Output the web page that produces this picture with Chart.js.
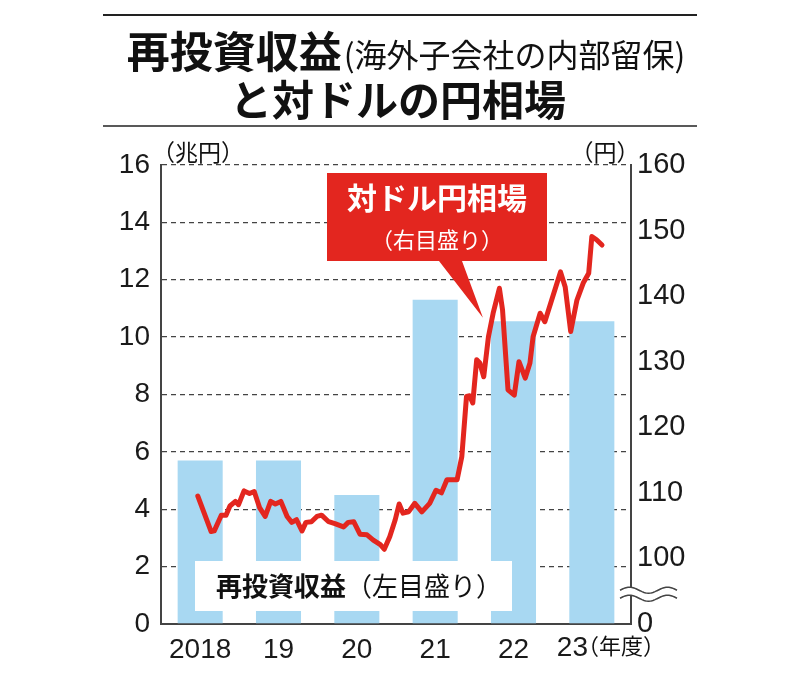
<!DOCTYPE html>
<html lang="ja">
<head>
<meta charset="utf-8">
<script src="https://cdn.jsdelivr.net/npm/chart.js@4/dist/chart.umd.min.js"></script>
<style>
  html, body { margin: 0; padding: 0; background: #fff; }
</style>
</head>
<body>
<canvas id="myChart" width="800" height="691"></canvas>
<script>
// 再投資収益（兆円、年度）
const years = ['2018', '19', '20', '21', '22', '23'];
const reinvest = [5.7, 5.7, 4.5, 11.3, 10.55, 10.55];

// 対ドル円相場（円）: 横位置は年度、値は右目盛り
const rateX = [2017.97, 2018.14, 2018.18, 2018.27, 2018.33, 2018.38, 2018.45, 2018.49, 2018.56, 2018.63,
  2018.69, 2018.76, 2018.83, 2018.90, 2018.96, 2019.03, 2019.11, 2019.17, 2019.23, 2019.30,
  2019.35, 2019.42, 2019.49, 2019.55, 2019.64, 2019.72, 2019.83, 2019.89, 2019.96, 2020.04,
  2020.13, 2020.21, 2020.30, 2020.35, 2020.42, 2020.49, 2020.54, 2020.59, 2020.66, 2020.74,
  2020.83, 2020.93, 2021.01, 2021.08, 2021.15, 2021.28, 2021.34, 2021.40, 2021.44, 2021.48,
  2021.53, 2021.57, 2021.62, 2021.68, 2021.74, 2021.82, 2021.86, 2021.93, 2022.01, 2022.07,
  2022.15, 2022.21, 2022.25, 2022.34, 2022.40, 2022.60, 2022.66, 2022.73, 2022.81, 2022.89,
  2022.96, 2023.00, 2023.06, 2023.13];
const rateYen = [109.5, 104.1, 104.2, 106.6, 106.6, 108.0, 108.7, 108.2, 110.3, 109.9,
  110.2, 107.7, 106.4, 108.7, 108.3, 108.7, 106.4, 105.5, 105.9, 104.2,
  105.5, 105.6, 106.4, 106.6, 105.6, 105.3, 104.8, 105.5, 105.6, 103.7,
  103.6, 102.8, 102.1, 101.4, 103.3, 105.9, 108.3, 106.9, 107.1, 108.4,
  107.1, 108.4, 110.4, 110.0, 112.0, 112.0, 115.5, 124.7, 124.8, 123.7,
  130.3, 129.8, 127.7, 133.8, 137.4, 141.2, 137.9, 125.7, 124.9, 130.0,
  127.5, 129.8, 133.8, 137.4, 136.1, 143.7, 141.4, 134.6, 139.4, 142.0,
  143.5, 149.1, 148.6, 147.8];

// 目盛り
const leftTicks = { min: 0, max: 16, step: 2 };
const rightTicks = { min: 90, max: 160, step: 10 };

const JP = '"Noto Sans CJK JP", "Noto Sans", sans-serif';
const NUM = '"Liberation Sans", Arial, sans-serif';
const RED = '#e3261f';
const AXIS = '#444';

// sin波の省略記号
function wavePath(ctx, x0, x1, y0, dir) {
  const xs = [];
  for (let x = x0; x <= x1; x += 1) xs.push(x);
  if (dir < 0) xs.reverse();
  xs.forEach((x, i) => {
    const y = y0 - 3 * Math.sin((x - x0) / 38 * 2 * Math.PI);
    if (i === 0 && dir > 0) ctx.moveTo(x, y); else ctx.lineTo(x, y);
  });
}

const decor = {
  id: 'decor',
  beforeDraw(chart) {
    const ctx = chart.ctx;
    ctx.save();
    ctx.fillStyle = '#fff';
    ctx.fillRect(0, 0, chart.width, chart.height);
    ctx.restore();
  },
  afterDatasetsDraw(chart) {
    const ctx = chart.ctx;
    const a = chart.chartArea;
    const xr = chart.scales.xr, y1 = chart.scales.y1;
    ctx.save();

    // 凡例（左目盛り）
    ctx.fillStyle = '#fff';
    ctx.fillRect(a.left + 34, a.bottom - 63, 317, 50);
    ctx.textBaseline = 'middle';
    ctx.fillStyle = '#111';
    const l1 = '再投資収益', l2 = '（左目盛り）';
    ctx.font = 'bold 26px ' + JP;
    const w1 = ctx.measureText(l1).width;
    ctx.font = '26px ' + JP;
    const w2 = ctx.measureText(l2).width;
    const lx = 359 - (w1 + w2) / 2;
    ctx.textAlign = 'left';
    ctx.font = 'bold 26px ' + JP;
    ctx.fillText(l1, lx, a.bottom - 38);
    ctx.font = '26px ' + JP;
    ctx.fillText(l2, lx + w1, a.bottom - 38);

    // 吹き出し（右目盛り）
    const tipX = xr.getPixelForValue(2021.61), tipY = y1.getPixelForValue(136.7);
    const bx = 327, by = 173, bw = 220, bh = 88;
    ctx.fillStyle = RED;
    ctx.beginPath();
    ctx.moveTo(bx, by);
    ctx.lineTo(bx + bw, by);
    ctx.lineTo(bx + bw, by + bh);
    ctx.lineTo(462, by + bh);
    ctx.lineTo(tipX, tipY);
    ctx.lineTo(439, by + bh);
    ctx.lineTo(bx, by + bh);
    ctx.closePath();
    ctx.fill();
    ctx.fillStyle = '#fff';
    ctx.textAlign = 'center';
    ctx.font = 'bold 30px ' + JP;
    ctx.fillText('対ドル円相場', bx + bw / 2, 198);
    ctx.font = '22px ' + JP;
    ctx.fillText('（右目盛り）', bx + bw / 2, 240);

    // 右軸の省略記号
    const r = a.right, my = y1.getPixelForValue(95) + 3;
    ctx.fillStyle = '#fff';
    ctx.beginPath();
    wavePath(ctx, r - 11, r + 46, my - 4, 1);
    wavePath(ctx, r - 11, r + 46, my + 4, -1);
    ctx.closePath();
    ctx.fill();
    ctx.strokeStyle = AXIS;
    ctx.lineWidth = 1.5;
    ctx.beginPath(); wavePath(ctx, r - 11, r + 46, my - 4, 1); ctx.stroke();
    ctx.beginPath(); wavePath(ctx, r - 11, r + 46, my + 4, 1); ctx.stroke();
    ctx.restore();
  },
  afterDraw(chart) {
    const ctx = chart.ctx;
    ctx.save();
    // 表題
    ctx.strokeStyle = '#222';
    ctx.lineWidth = 2;
    ctx.beginPath(); ctx.moveTo(103, 15); ctx.lineTo(697, 15); ctx.stroke();
    ctx.lineWidth = 1.5;
    ctx.beginPath(); ctx.moveTo(103, 126); ctx.lineTo(697, 126); ctx.stroke();

    ctx.fillStyle = '#111';
    ctx.textBaseline = 'middle';
    ctx.textAlign = 'left';
    const t1 = '再投資収益', t2 = '(海外子会社の内部留保)';
    ctx.font = 'bold 43px ' + JP;
    const tw1 = ctx.measureText(t1).width;
    ctx.font = '32px ' + JP;
    const tw2 = ctx.measureText(t2).width;
    const tx = 405 - (tw1 + tw2) / 2;
    ctx.font = 'bold 43px ' + JP;
    ctx.fillText(t1, tx, 52);
    ctx.font = '32px ' + JP;
    ctx.fillText(t2, tx + tw1 + 2, 55);
    ctx.font = 'bold 42px ' + JP;
    ctx.textAlign = 'center';
    ctx.fillText('と対ドルの円相場', 398, 100);

    // 単位
    ctx.font = '23px ' + JP;
    ctx.fillText('（兆円）', 198, 152);
    ctx.fillText('（円）', 605, 152);
    ctx.textAlign = 'left';
    ctx.font = '22px ' + JP;
    ctx.fillText('（年度）', 577, 646);
    ctx.textAlign = 'right';
    ctx.font = '28px ' + NUM;
    ctx.fillStyle = '#1a1a1a';
    ctx.fillText(years[years.length - 1], 588, 648);
    ctx.restore();
  }
};

new Chart(document.getElementById('myChart'), {
  type: 'bar',
  data: {
    labels: years,
    datasets: [
      {
        type: 'line',
        label: '対ドル円相場',
        data: rateX.map((x, i) => ({ x: x, y: rateYen[i] })),
        xAxisID: 'xr',
        yAxisID: 'y1',
        borderColor: RED,
        borderWidth: 5,
        borderJoinStyle: 'round',
        borderCapStyle: 'round',
        pointRadius: 0,
        tension: 0,
        order: 0
      },
      {
        label: '再投資収益',
        data: reinvest,
        xAxisID: 'x',
        yAxisID: 'y',
        backgroundColor: '#a8d8f2',
        grouped: false,
        barPercentage: 0.575,
        categoryPercentage: 1.0,
        order: 1
      }
    ]
  },
  options: {
    responsive: false,
    animation: false,
    layout: { padding: { top: 165, left: 0, right: 0, bottom: 0 } },
    plugins: { legend: { display: false }, title: { display: false }, tooltip: { enabled: false } },
    scales: {
      x: {
        offset: true,
        grid: { display: false },
        border: { display: true, color: AXIS, width: 2 },
        ticks: {
          color: '#1a1a1a',
          font: { family: NUM, size: 28 },
          padding: 1,
          maxRotation: 0,
          callback: (v, i) => i === years.length - 1 ? '' : years[i]
        },
        afterFit: (s) => { s.height = 67; }
      },
      xr: {
        type: 'linear',
        display: false,
        offset: false,
        grid: { offset: false },
        min: 2017.5,
        max: 2023.5
      },
      y: {
        position: 'left',
        min: leftTicks.min,
        max: leftTicks.max,
        grid: { color: AXIS, lineWidth: 1.3, drawTicks: false },
        border: { display: true, color: AXIS, width: 2, dash: [5, 4] },
        ticks: {
          stepSize: leftTicks.step,
          color: '#1a1a1a',
          font: { family: NUM, size: 28 },
          padding: 11
        },
        afterFit: (s) => { s.width = 161; }
      },
      y1: {
        position: 'right',
        min: rightTicks.min,
        max: rightTicks.max,
        grid: { display: false, drawTicks: false },
        border: { display: true, color: AXIS, width: 2 },
        ticks: {
          stepSize: rightTicks.step,
          color: '#1a1a1a',
          font: { family: NUM, size: 29 },
          padding: 6,
          callback: (v) => v === rightTicks.min ? '0' : v
        },
        afterFit: (s) => { s.width = 169; }
      }
    }
  },
  plugins: [decor]
});
</script>
</body>
</html>
